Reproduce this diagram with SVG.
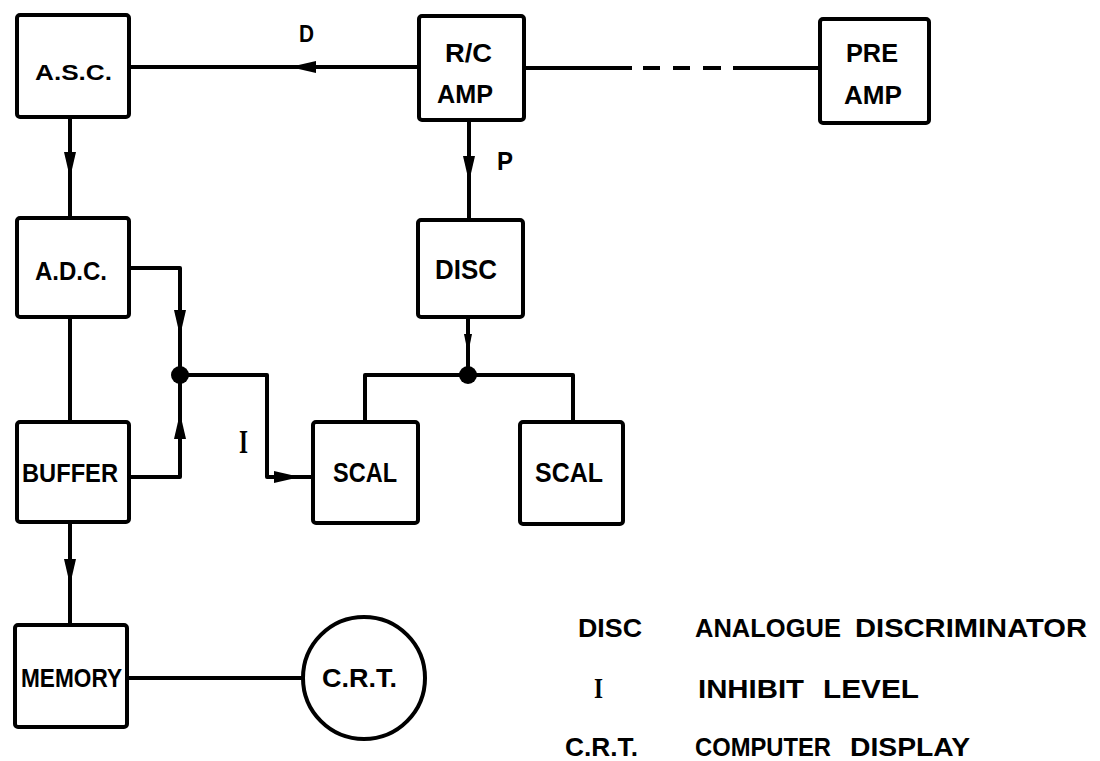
<svg xmlns="http://www.w3.org/2000/svg" width="1100" height="761" viewBox="0 0 1100 761">
<style>
.box{fill:#fff;stroke:#000;stroke-width:4}
.ln{fill:none;stroke:#000;stroke-width:4;stroke-linejoin:round}
.t{font-family:"Liberation Sans",Arial,sans-serif;font-weight:bold;fill:#000}
.s{font-family:"Liberation Serif","Times New Roman",serif;font-weight:bold;fill:#000}
.dot{fill:#000}
</style>
<defs>
<path id="ah" d="M0,0 L-26,-6 L-26,6 Z" fill="#000"/>
<path id="ahs" d="M0,0 L-20,-4 L-20,4 Z" fill="#000"/>
</defs>
<rect width="1100" height="761" fill="#fff"/>
<g id="connectors">
<path class="ln" d="M129,67 L419,67"/>
<path class="ln" d="M524,68 L632,68 M643,68 L660,68 M673,68 L690,68 M703,68 L721,68 M733,68 L820,68"/>
<path class="ln" d="M70,117 L70,218"/>
<path class="ln" d="M469,120 L469,220"/>
<path class="ln" d="M129,268 L180,268 L180,477 L129,477"/>
<path class="ln" d="M180,375 L267,375 L267,477 L313,477"/>
<path class="ln" d="M70,317 L70,422"/>
<path class="ln" d="M70,522 L70,625"/>
<path class="ln" d="M468,317 L468,375"/>
<path class="ln" d="M365,422 L365,375 L573,375 L573,422"/>
<path class="ln" d="M127,678 L303,678"/>
<use href="#ah" transform="translate(290,67) rotate(180)"/>
<use href="#ah" transform="translate(70,178) rotate(90)"/>
<use href="#ah" transform="translate(469,182) rotate(90)"/>
<use href="#ah" transform="translate(180,336) rotate(90)"/>
<use href="#ah" transform="translate(180,413) rotate(-90)"/>
<use href="#ah" transform="translate(300,477)"/>
<use href="#ahs" transform="translate(468,354) rotate(90)"/>
<use href="#ah" transform="translate(70,585) rotate(90)"/>
<circle class="dot" cx="180" cy="375" r="9"/>
<circle class="dot" cx="468" cy="375" r="9"/>
<text class="t" x="299" y="42" font-size="24" textLength="15" lengthAdjust="spacingAndGlyphs">D</text>
<text class="t" x="497" y="170" font-size="25" textLength="16" lengthAdjust="spacingAndGlyphs">P</text>
<text class="s" x="239" y="453" font-size="33" textLength="9" lengthAdjust="spacingAndGlyphs">I</text>
</g>
<g id="asc">
<rect class="box" x="17" y="15" width="112" height="102" rx="3"/>
<text class="t" x="35" y="80" font-size="22" textLength="77" lengthAdjust="spacingAndGlyphs">A.S.C.</text>
</g>
<g id="rcamp">
<rect class="box" x="419" y="16" width="105" height="104" rx="3"/>
<text class="t" x="445" y="62" font-size="26" textLength="47" lengthAdjust="spacingAndGlyphs">R/C</text>
<text class="t" x="437" y="103" font-size="26" textLength="56" lengthAdjust="spacingAndGlyphs">AMP</text>
</g>
<g id="preamp">
<rect class="box" x="820" y="19" width="109" height="104" rx="3"/>
<text class="t" x="846" y="62" font-size="26" textLength="52" lengthAdjust="spacingAndGlyphs">PRE</text>
<text class="t" x="844" y="104" font-size="26" textLength="58" lengthAdjust="spacingAndGlyphs">AMP</text>
</g>
<g id="adc">
<rect class="box" x="17" y="218" width="112" height="99" rx="3"/>
<text class="t" x="35" y="280" font-size="25" textLength="72" lengthAdjust="spacingAndGlyphs">A.D.C.</text>
</g>
<g id="disc">
<rect class="box" x="418" y="220" width="105" height="97" rx="3"/>
<text class="t" x="435" y="279" font-size="27" textLength="62" lengthAdjust="spacingAndGlyphs">DISC</text>
</g>
<g id="buffer">
<rect class="box" x="17" y="422" width="112" height="100" rx="3"/>
<text class="t" x="22" y="482" font-size="26" textLength="96" lengthAdjust="spacingAndGlyphs">BUFFER</text>
</g>
<g id="scal1">
<rect class="box" x="313" y="422" width="105" height="101" rx="3"/>
<text class="t" x="333" y="482" font-size="27" textLength="64" lengthAdjust="spacingAndGlyphs">SCAL</text>
</g>
<g id="scal2">
<rect class="box" x="520" y="422" width="103" height="102" rx="3"/>
<text class="t" x="535" y="482" font-size="27" textLength="68" lengthAdjust="spacingAndGlyphs">SCAL</text>
</g>
<g id="memory">
<rect class="box" x="15" y="625" width="112" height="102" rx="3"/>
<text class="t" x="21" y="687" font-size="26" textLength="101" lengthAdjust="spacingAndGlyphs">MEMORY</text>
</g>
<g id="crt">
<circle class="box" cx="364" cy="678" r="61"/>
<text class="t" x="322" y="687" font-size="26" textLength="75" lengthAdjust="spacingAndGlyphs">C.R.T.</text>
</g>
<g id="legend">
<text class="t" x="578" y="637" font-size="25" textLength="64" lengthAdjust="spacingAndGlyphs">DISC</text>
<text class="t" x="695" y="637" font-size="25" textLength="146" lengthAdjust="spacingAndGlyphs">ANALOGUE</text>
<text class="t" x="855" y="637" font-size="25" textLength="232" lengthAdjust="spacingAndGlyphs">DISCRIMINATOR</text>
<text class="s" x="594" y="698" font-size="29" textLength="9" lengthAdjust="spacingAndGlyphs">I</text>
<text class="t" x="698" y="698" font-size="25" textLength="106" lengthAdjust="spacingAndGlyphs">INHIBIT</text>
<text class="t" x="823" y="698" font-size="25" textLength="96" lengthAdjust="spacingAndGlyphs">LEVEL</text>
<text class="t" x="565" y="756" font-size="25" textLength="73" lengthAdjust="spacingAndGlyphs">C.R.T.</text>
<text class="t" x="695" y="756" font-size="25" textLength="136" lengthAdjust="spacingAndGlyphs">COMPUTER</text>
<text class="t" x="850" y="756" font-size="25" textLength="120" lengthAdjust="spacingAndGlyphs">DISPLAY</text>
</g>
</svg>
